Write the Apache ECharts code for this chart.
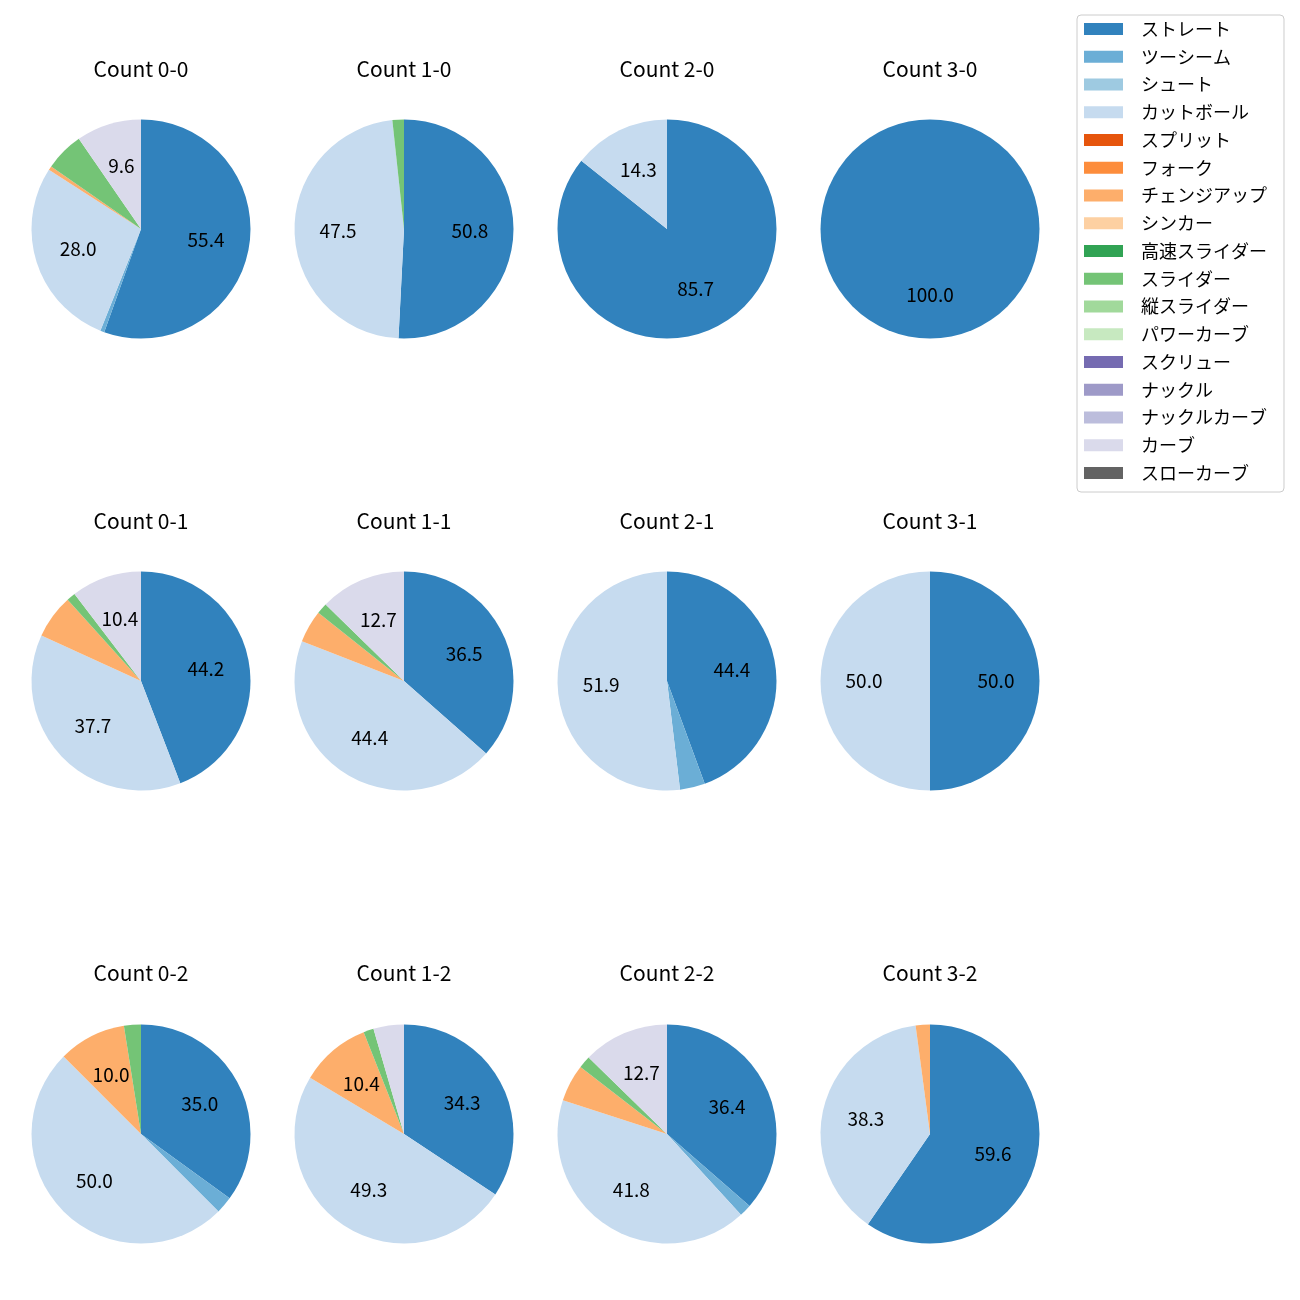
<!DOCTYPE html>
<html>
<head>
<meta charset="utf-8">
<script src="https://cdn.jsdelivr.net/npm/echarts@6/dist/echarts.min.js"></script>
<style>html,body{margin:0;padding:0;background:#fff}#c{width:1300px;height:1300px}</style>
</head>
<body>
<div id="c"></div>
<script>
// Subplot order
const countLabels = ['0-0','1-0','2-0','3-0','0-1','1-1','2-1','3-1','0-2','1-2','2-2','3-2'];
const pitchTypes = ['ストレート','ツーシーム','シュート','カットボール','スプリット','フォーク','チェンジアップ','シンカー','高速スライダー','スライダー','縦スライダー','パワーカーブ','スクリュー','ナックル','ナックルカーブ','カーブ','スローカーブ'];
const pitchColors = ['#3182bd','#6baed6','#9ecae1','#c6dbef','#e6550d','#fd8d3c','#fdae6b','#fdd0a2','#31a354','#74c476','#a1d99b','#c7e9c0','#756bb1','#9e9ac8','#bcbddc','#dadaeb','#636363'];

// Percent values per pitch type, one per count (order of countLabels)
const straight   = [55.4, 50.8, 85.7, 100.0, 44.2, 36.5, 44.4, 50.0, 35.0, 34.3, 36.4, 59.6];
const twoSeam    = [0.6, 0, 0, 0, 0, 0, 3.7, 0, 2.5, 0, 1.8, 0];
const shoot      = [0,0,0,0,0,0,0,0,0,0,0,0];
const cutter     = [28.0, 47.5, 14.3, 0, 37.7, 44.4, 51.9, 50.0, 50.0, 49.3, 41.8, 38.3];
const split      = [0,0,0,0,0,0,0,0,0,0,0,0];
const fork       = [0,0,0,0,0,0,0,0,0,0,0,0];
const changeup   = [0.6, 0, 0, 0, 6.5, 4.8, 0, 0, 10.0, 10.4, 5.5, 2.1];
const sinker     = [0,0,0,0,0,0,0,0,0,0,0,0];
const fastSlider = [0,0,0,0,0,0,0,0,0,0,0,0];
const slider     = [5.7, 1.7, 0, 0, 1.3, 1.6, 0, 0, 2.5, 1.5, 1.8, 0];
const vSlider    = [0,0,0,0,0,0,0,0,0,0,0,0];
const powerCurve = [0,0,0,0,0,0,0,0,0,0,0,0];
const screw      = [0,0,0,0,0,0,0,0,0,0,0,0];
const knuckle    = [0,0,0,0,0,0,0,0,0,0,0,0];
const knuckleCurve=[0,0,0,0,0,0,0,0,0,0,0,0];
const curve      = [9.6, 0, 0, 0, 10.4, 12.7, 0, 0, 0, 4.5, 12.7, 0];
const slowCurve  = [0,0,0,0,0,0,0,0,0,0,0,0];

const valueRows = [straight, twoSeam, shoot, cutter, split, fork, changeup, sinker, fastSlider, slider, vSlider, powerCurve, screw, knuckle, knuckleCurve, curve, slowCurve];

const FONT = "'Noto Sans CJK JP', 'Noto Sans', sans-serif";
const colX = [141, 404, 667, 930];
const rowY = [229, 681, 1134];
const titleY = [69, 521, 973];
const R = 109.5;
const LABEL_MIN = 7;

const series = [];
const labelSeries = [];
const graphics = [];
countLabels.forEach((c, i) => {
  const col = i % 4, row = Math.floor(i / 4);
  const data = pitchTypes.map((p, k) => ({ name: p, value: valueRows[k][i], itemStyle: { color: pitchColors[k] } }));
  series.push({
    type: 'pie', center: [colX[col], rowY[row]], radius: [0, R],
    startAngle: 90, clockwise: true, silent: true, animation: false,
    avoidLabelOverlap: false,
    itemStyle: { borderWidth: 0 },
    label: { show: false }, labelLine: { show: false },
    data: data
  });
  labelSeries.push({
    type: 'pie', center: [colX[col], rowY[row]], radius: [0, R * 1.15],
    startAngle: 90, clockwise: true, silent: true, animation: false,
    avoidLabelOverlap: false,
    itemStyle: { color: 'rgba(0,0,0,0)', borderWidth: 0 },
    label: {
      show: true, position: 'inside', color: '#000', fontSize: 19, fontFamily: FONT,
      formatter: p => (p.value >= LABEL_MIN ? p.value.toFixed(1) : '')
    },
    labelLine: { show: false },
    data: pitchTypes.map((p, k) => ({ name: p, value: valueRows[k][i] }))
  });
  graphics.push({
    type: 'text', x: colX[col], y: titleY[row],
    style: { text: 'Count ' + c, textAlign: 'center', textVerticalAlign: 'middle', fontSize: 21, fontFamily: FONT, fill: '#000' }
  });
});

const chart = echarts.init(document.getElementById('c'), null, { renderer: 'canvas' });
chart.setOption({
  backgroundColor: '#fff',
  animation: false,
  legend: {
    data: pitchTypes,
    orient: 'vertical', left: 1077, top: 15,
    icon: 'rect', itemWidth: 39, itemHeight: 12, itemGap: 9.75,
    padding: [5, 17, 10, 7],
    borderColor: '#cccccc', borderWidth: 1, borderRadius: 4,
    selectedMode: false,
    textStyle: { fontSize: 18, fontFamily: FONT, color: '#000', lineHeight: 18, padding: [0, 0, 0, 13] }
  },
  graphic: graphics,
  series: series.concat(labelSeries)
});
</script>
</body>
</html>
